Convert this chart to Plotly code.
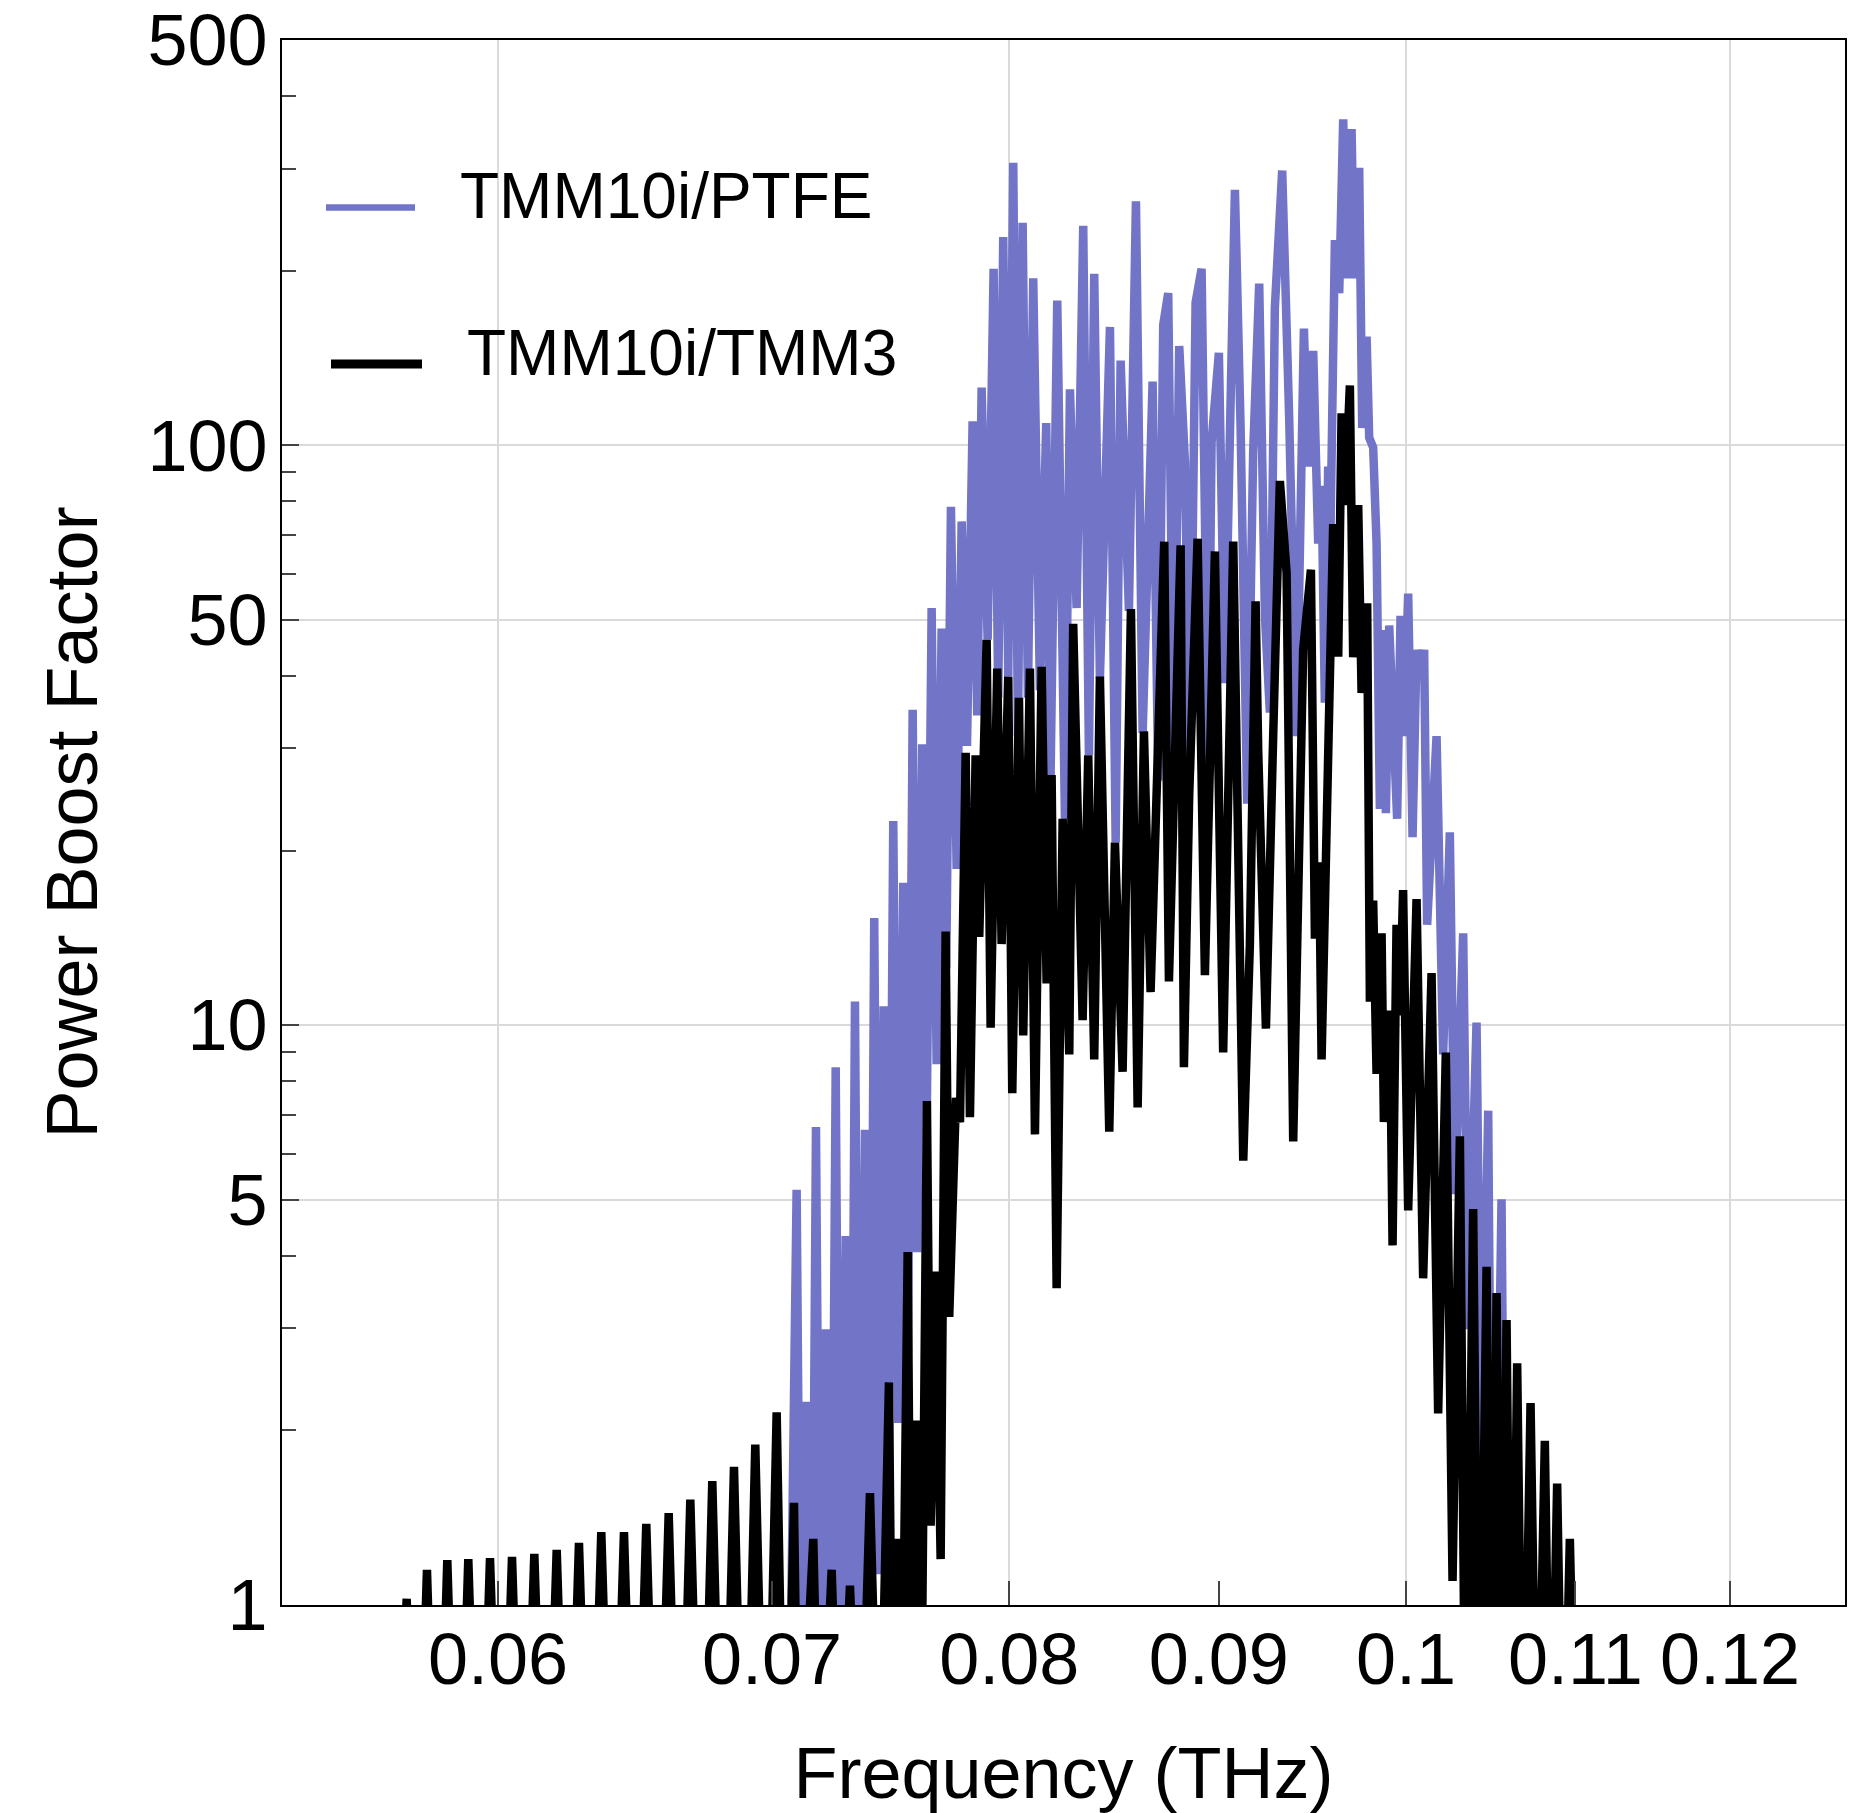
import math
import plotly.graph_objects as go

# ---------------- data ----------------
freq_ptfe = [0.07065, 0.070978, 0.071178, 0.071380, 0.071565, 0.071755, 0.071956, 0.072158, 0.072350, 0.072555,
             0.072759, 0.072964, 0.073151, 0.073346, 0.073553, 0.073760, 0.073955, 0.074145, 0.074342, 0.074539,
             0.074733, 0.074943, 0.075153, 0.075366, 0.075566, 0.075766, 0.075962, 0.076175, 0.076376, 0.076579,
             0.076795, 0.077011, 0.077210, 0.077415, 0.077664, 0.077883, 0.078116, 0.078365, 0.078568, 0.078763,
             0.079030, 0.079296, 0.079501, 0.079726, 0.079951, 0.080177, 0.080389, 0.080601, 0.080841, 0.081083,
             0.081390, 0.081677, 0.081879, 0.082186, 0.082543, 0.082775, 0.083086, 0.083396, 0.083664, 0.083913,
             0.084182, 0.084659, 0.084931, 0.085169, 0.085568, 0.085906, 0.086231, 0.086715, 0.086990, 0.087235,
             0.087480, 0.087759, 0.088023, 0.088306, 0.088555, 0.088838, 0.089138, 0.089470, 0.089640, 0.090010,
             0.090313, 0.090825, 0.091117, 0.091455, 0.091763, 0.092075, 0.092371, 0.092630, 0.092889, 0.093273,
             0.093641, 0.094030, 0.094419, 0.094648, 0.094915, 0.095181, 0.095363, 0.095539, 0.095718, 0.095847,
             0.096080, 0.096313, 0.096530, 0.096714, 0.096985, 0.097128, 0.097402, 0.097567, 0.097808, 0.097951,
             0.098171, 0.098359, 0.098542, 0.098692, 0.098876, 0.099059, 0.099504, 0.099694, 0.099880, 0.100123,
             0.100371, 0.100597, 0.100784, 0.101027, 0.101198, 0.101735, 0.102113, 0.102497, 0.102788, 0.103270,
             0.103560, 0.104049, 0.104344, 0.104733, 0.105027, 0.105522, 0.105820]
boost_ptfe = [0.4, 5.2, 0.4, 2.24, 0.4, 6.67, 0.4, 2.99, 0.4, 8.46,
              0.4, 4.33, 0.5, 10.98, 0.5, 6.60, 0.8, 15.3, 1.13, 10.78,
              1.36, 22.5, 2.06, 17.6, 2.72, 35.0, 4.06, 30.5, 7.40, 52.4,
              8.56, 48.3, 12.56, 78.3, 18.6, 73.9, 30.3, 110, 34.2, 125.8,
              46.2, 201.5, 36.7, 228.6, 39.9, 307, 31.5, 242, 36.7, 194,
              37.8, 109.2, 27.0, 177.6, 22.7, 124.9, 52.4, 239, 29.2, 197.6,
              39.6, 160, 20.65, 140, 51.8, 263.5, 31.9, 128.8, 26.4, 161.4,
              183, 28.8, 148.3, 93.7, 27.5, 176.2, 201.5, 28.4, 101.2, 144.4,
              38.9, 275.8, 107.1, 24.1, 97.4, 190, 50.8, 34.6, 172.9, 297.7,
              111.3, 31.5, 158.9, 91.9, 145.5, 67.7, 85.1, 36.0, 91.9, 73.1,
              226, 183, 364.8, 194, 351, 194, 301, 107.1, 154, 103.1,
              99.2, 67.7, 23.6, 48.0, 23.2, 48.9, 22.7, 50.8, 31.5, 55.5,
              21.1, 44.4, 39.6, 44.4, 14.9, 31.5, 8.9, 21.5, 5.11, 14.4,
              2.99, 10.1, 1.65, 7.12, 0.5, 5.01, 0.4]

freq_tmm3 = [0.0566, 0.056997, 0.057324, 0.057651, 0.057983, 0.058314, 0.058661, 0.059007, 0.059370, 0.059732,
             0.060104, 0.060476, 0.060858, 0.061240, 0.061628, 0.062016, 0.062407, 0.062798, 0.063195, 0.063591,
             0.064000, 0.064408, 0.064815, 0.065221, 0.065635, 0.066049, 0.066453, 0.066857, 0.067273, 0.067689,
             0.068105, 0.068520, 0.068933, 0.069346, 0.069766, 0.070185, 0.070528,
             0.070871, 0.071058, 0.071646, 0.071916, 0.072391, 0.072730, 0.073139, 0.073553, 0.073967, 0.074355,
             0.074762, 0.074917, 0.075086, 0.075297, 0.075553, 0.075724, 0.075894, 0.076133, 0.076376, 0.076536,
             0.076752, 0.076968, 0.077184, 0.077340, 0.077634, 0.077809, 0.078059, 0.078247, 0.078497, 0.078657,
             0.078985, 0.079163, 0.079457, 0.079654, 0.079951, 0.080132, 0.080434, 0.080627, 0.080933, 0.081161,
             0.081467, 0.081696, 0.081926, 0.082158,
             0.082436, 0.082743, 0.082927, 0.083368, 0.083631, 0.083913, 0.084182, 0.084626, 0.084898, 0.085264,
             0.085665, 0.085988, 0.086293, 0.086617, 0.087284, 0.087515, 0.087809, 0.088092, 0.088256, 0.088520,
             0.088938, 0.089304, 0.089808, 0.090227, 0.090740, 0.091252, 0.091592, 0.091888, 0.092023, 0.092423,
             0.092801, 0.093152, 0.093504, 0.093853, 0.094381, 0.094793, 0.095006, 0.095236, 0.095363,
             0.095988, 0.096259, 0.096443, 0.096621, 0.096892, 0.097073, 0.097347, 0.097534, 0.097841, 0.097990,
             0.098171, 0.098359, 0.098636, 0.098764, 0.099098, 0.099248, 0.099471, 0.099655, 0.099838, 0.100123,
             0.100597, 0.100970, 0.101449, 0.101826, 0.102266, 0.102654, 0.103078, 0.103427, 0.103852, 0.104202,
             0.104638, 0.104933, 0.105229, 0.105520, 0.105820, 0.106120, 0.106454, 0.106812, 0.107259, 0.107659,
             0.108125, 0.108470, 0.108876, 0.109244, 0.109656, 0.110069]
boost_tmm3 = [0.3, 1.025, 0.3, 1.15, 0.3, 1.195, 0.3, 1.20, 0.3, 1.205,
              0.3, 1.21, 0.3, 1.225, 0.3, 1.245, 0.3, 1.28, 0.3, 1.335,
              0.3, 1.335, 0.3, 1.38, 0.3, 1.44, 0.3, 1.52, 0.3, 1.635,
              0.3, 1.73, 0.3, 1.89, 0.3, 2.15, 0.3,
              1.50, 0.4, 1.3, 0.4, 1.15, 0.4, 1.08, 0.4, 1.56, 0.4,
              2.42, 0.5, 1.30, 0.5, 4.06, 0.5, 2.08, 0.6, 7.40, 1.37,
              3.76, 1.2, 14.5, 3.14, 7.49, 6.8, 29.5, 6.94, 29.2, 14.2,
              46.2, 9.9, 41.2, 13.8, 39.9, 7.63, 36.7, 9.6, 41.2, 6.48,
              41.5, 11.8, 27.0, 3.52,
              22.7, 8.9, 49.2, 10.2, 29.2, 8.73, 39.9, 6.55, 20.65, 8.31,
              52.2, 7.21, 32.1, 11.4, 68.2, 11.9, 28.8, 67.2, 8.46, 25.0,
              69.0, 12.2, 65.6, 8.97, 68.2, 5.84, 13.8, 53.8, 29.7, 9.86,
              31.5, 86.8, 60.3, 6.30, 44.4, 61.0, 14.1, 19.1, 8.73,
              73.1, 43.2, 113.5, 78.9, 126.8, 43.1, 78.9, 37.4, 53.4, 10.98,
              16.4, 8.24, 14.4, 6.81, 10.6, 4.17, 14.9, 10.4, 17.1, 4.79,
              16.5, 3.66, 12.3, 2.14, 8.97, 1.10, 6.43, 0.4, 4.82, 0.4,
              3.83, 0.4, 3.45, 0.4, 3.1, 0.4, 2.61, 0.4, 2.23, 0.4,
              1.92, 0.4, 1.62, 0.4, 1.30, 0.4]

series_names = ["TMM10i/PTFE", "TMM10i/TMM3"]
x_tick_values = [0.06, 0.07, 0.08, 0.09, 0.1, 0.11, 0.12]
x_tick_labels = ["0.06", "0.07", "0.08", "0.09", "0.1", "0.11", "0.12"]
x_grid_values = [0.06, 0.08, 0.1, 0.12]
y_tick_values = [1, 5, 10, 50, 100, 500]
y_tick_labels = ["1", "5", "10", "50", "100", "500"]
y_minor_values = [2, 3, 4, 6, 7, 8, 9, 20, 30, 40, 60, 70, 80, 90, 200, 300, 400]

# ---------------- style ----------------
BLUE = "rgb(113,116,199)"
FONT = "Liberation Sans, Arial, sans-serif"
W, H = 1865, 1813
L, R, T, B = 282, 1845, 40, 1605   # plot area in pixels

fig = go.Figure()
fig.add_trace(go.Scatter(x=freq_ptfe, y=boost_ptfe, mode="lines", name=series_names[0],
                         line=dict(color=BLUE, width=8.5), showlegend=False))
fig.add_trace(go.Scatter(x=freq_tmm3, y=boost_tmm3, mode="lines", name=series_names[1],
                         line=dict(color="black", width=8.5), showlegend=False))

fig.update_layout(
    width=W, height=H,
    margin=dict(l=L, r=W - R, t=T, b=H - B, pad=0, autoexpand=False),
    plot_bgcolor="white", paper_bgcolor="white",
    font=dict(family=FONT, size=72, color="black"),
    xaxis=dict(
        type="log", range=[-1.27461, -0.89274], automargin=False,
        tickmode="array", tickvals=x_tick_values, ticktext=x_tick_labels,
        ticks="inside", ticklen=24, tickwidth=1.5, tickcolor="#444",
        showgrid=False, showline=True, linecolor="black", linewidth=2, mirror=True,
        minor=dict(tickmode="array", tickvals=x_grid_values, showgrid=True,
                   gridcolor="rgb(218,218,218)", gridwidth=1.5, ticks=""),
        tickfont=dict(size=72), ticklabelstandoff=-9,
        title=dict(text="Frequency (THz)", font=dict(size=72), standoff=53),
    ),
    yaxis=dict(
        type="log", range=[0, math.log10(500)], automargin=False,
        tickmode="array", tickvals=y_tick_values, ticktext=y_tick_labels,
        ticks="inside", ticklen=17, tickwidth=1.5, tickcolor="#444",
        showgrid=True, gridcolor="rgb(218,218,218)", gridwidth=1.5,
        showline=True, linecolor="black", linewidth=2, mirror=True,
        minor=dict(tickmode="array", tickvals=y_minor_values, ticks="inside",
                   ticklen=14, tickwidth=1.5, tickcolor="#444", showgrid=False),
        tickfont=dict(size=72), ticklabelstandoff=-2,
        title=dict(text="Power Boost Factor", font=dict(size=72), standoff=26),
    ),
)

# legend drawn in the plot area (long line samples as in the reference)
def px_x(p):
    return (p - L) / (R - L)

def px_y(p):
    return (B - p) / (B - T)

legend_rows = [
    (series_names[0], BLUE, 6.7, 326, 415, 207.5, 458, 196),
    (series_names[1], "black", 9, 331, 422, 364, 465, 352.5),
]
for name, color, lw, x0, x1, yl, xt, yt in legend_rows:
    fig.add_shape(type="line", xref="paper", yref="paper",
                  x0=px_x(x0), x1=px_x(x1), y0=px_y(yl), y1=px_y(yl),
                  line=dict(color=color, width=lw))
    fig.add_annotation(xref="paper", yref="paper", x=px_x(xt), y=px_y(yt),
                       text=name, showarrow=False, xanchor="left", yanchor="middle",
                       font=dict(family=FONT, size=64, color="black"))

fig.write_html("out.html")
